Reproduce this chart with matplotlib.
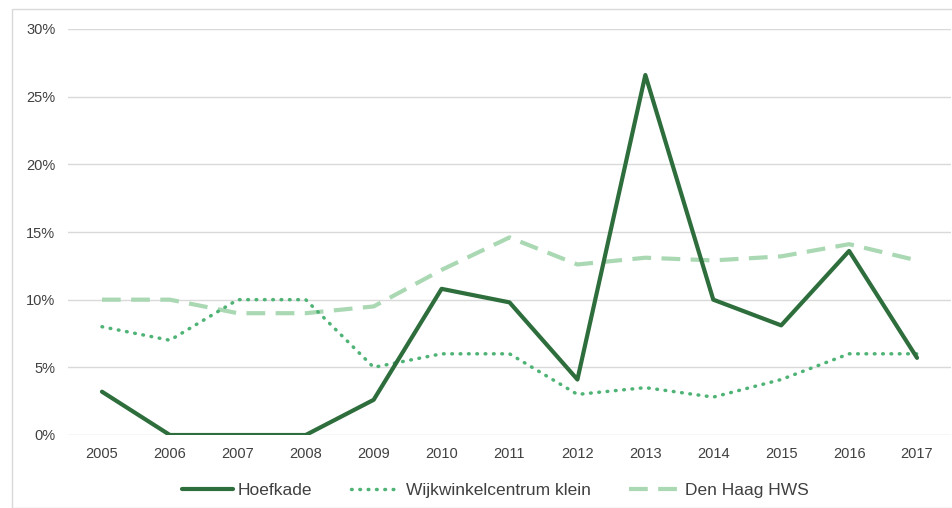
import matplotlib
matplotlib.use("Agg")
import matplotlib.pyplot as plt
from matplotlib.patches import Rectangle
from matplotlib.ticker import FuncFormatter

years = [2005, 2006, 2007, 2008, 2009, 2010, 2011, 2012, 2013, 2014, 2015, 2016, 2017]
hoefkade = [3.2, 0.0, 0.0, 0.0, 2.6, 10.8, 9.8, 4.1, 26.6, 10.0, 8.1, 13.6, 5.7]
wijkwinkel = [8.0, 7.0, 10.0, 10.0, 5.0, 6.0, 6.0, 3.0, 3.5, 2.8, 4.1, 6.0, 6.0]
denhaag = [10.0, 10.0, 9.0, 9.0, 9.5, 12.2, 14.6, 12.6, 13.1, 12.9, 13.2, 14.1, 12.9]
yticks = [0, 5, 10, 15, 20, 25, 30]

plt.rcParams['font.family'] = ['Liberation Sans', 'DejaVu Sans']

fig = plt.figure(figsize=(9.53, 5.08), dpi=100)
fig.patches.append(Rectangle((12/953, 0), 1.0, (508-9)/508, transform=fig.transFigure,
                             fill=False, edgecolor='#d9d9d9', linewidth=1.0))
ax = fig.add_axes([68/953, 73/508, 883/953, 406/508])

ax.plot(years, hoefkade, color='#2e6e3c', linewidth=3.0, label='Hoefkade', solid_capstyle='round', zorder=3)
ax.plot(years, wijkwinkel, color='#4fb376', linewidth=2.5, linestyle=(0, (0.2, 2.2)),
        dash_capstyle='round', label='Wijkwinkelcentrum klein', zorder=2)
ax.plot(years, denhaag, color='#a9d8b3', linewidth=3.0, linestyle=(0, (4.5, 2.5)),
        label='Den Haag HWS', zorder=1)

ax.set_xlim(2004.5, 2017.5)
ax.set_ylim(0, 30)
ax.set_yticks(yticks)
ax.yaxis.set_major_formatter(FuncFormatter(lambda v, p: f"{int(v)}%"))
ax.set_xticks(years)
ax.grid(axis='y', color='#d9d9d9', linewidth=1.0)
ax.set_axisbelow(True)
for s in ax.spines.values():
    s.set_visible(False)
ax.tick_params(axis='both', length=0, labelsize=10.5, colors='#404040')
ax.tick_params(axis='x', pad=9)
ax.tick_params(axis='y', pad=9)

leg = ax.legend(loc='upper center', bbox_to_anchor=(0.484, -0.08), ncol=3, frameon=False,
                fontsize=12.5, handlelength=2.9, columnspacing=2.2, handletextpad=0.3)
for t in leg.get_texts():
    t.set_color('#404040')

fig.savefig('out.png', dpi=100)
